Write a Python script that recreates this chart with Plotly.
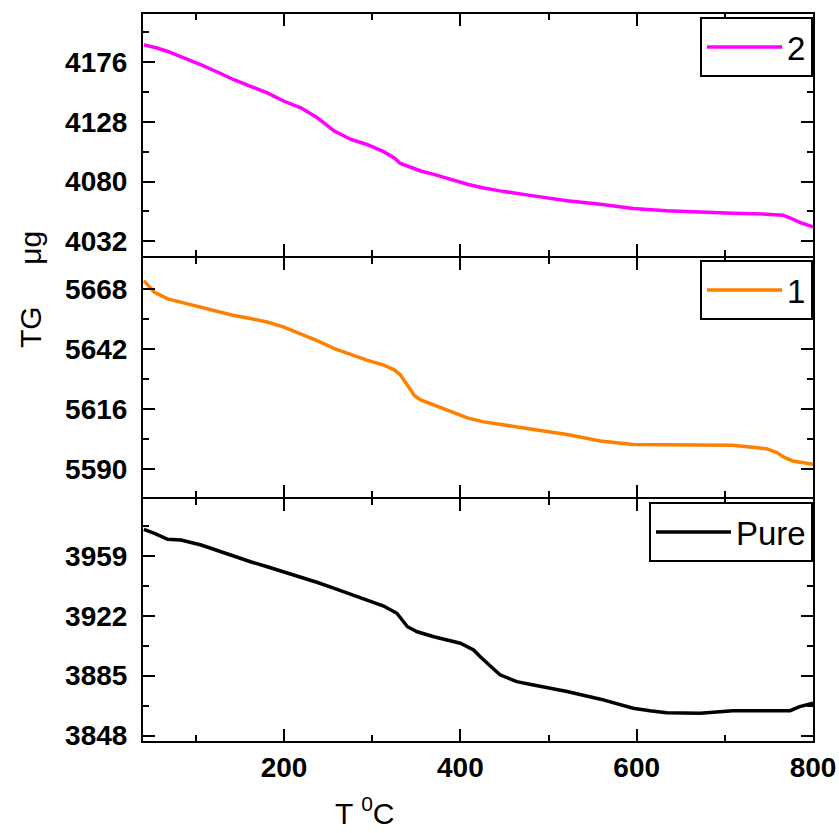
import plotly.graph_objects as go

# ---- data ----
T2 = [41, 55, 68, 86, 106, 125, 143, 162, 181, 200, 219, 238, 257, 276, 294, 313, 325, 332, 345, 355, 370, 390, 408, 425, 445, 483, 521, 559, 596, 634, 672, 709, 747, 766, 775, 785, 800]
W2 = [4189.8, 4187.5, 4184.5, 4179.5, 4173.8, 4167.8, 4161.8, 4156.5, 4151.2, 4144.5, 4139.2, 4131.2, 4120.5, 4113.8, 4109.8, 4104.0, 4099.0, 4094.5, 4091.0, 4088.5, 4085.8, 4081.5, 4077.8, 4075.0, 4072.5, 4068.5, 4064.5, 4061.8, 4058.4, 4056.5, 4055.2, 4054.6, 4053.8, 4053.0, 4050.5, 4047.2, 4043.6]

T1 = [41, 53, 68, 86, 106, 125, 143, 162, 181, 200, 219, 238, 257, 276, 294, 313, 325, 332, 338, 343, 348, 355, 370, 390, 408, 425, 445, 483, 521, 559, 596, 634, 672, 709, 728, 747, 759, 768, 777, 800]
W1 = [5671.6, 5666.5, 5663.7, 5662.0, 5660.1, 5658.2, 5656.5, 5655.2, 5653.7, 5651.5, 5648.7, 5645.5, 5642.2, 5639.6, 5637.2, 5635.1, 5633.0, 5630.8, 5627.5, 5624.4, 5621.8, 5620.0, 5617.9, 5614.8, 5612.2, 5610.6, 5609.3, 5607.2, 5605.0, 5602.2, 5600.7, 5600.5, 5600.5, 5600.4, 5599.6, 5598.9, 5597.2, 5595.0, 5593.6, 5592.2]

TP = [41, 53, 68, 83, 106, 125, 143, 162, 181, 200, 219, 238, 257, 276, 294, 313, 328, 335, 340, 351, 370, 400, 415, 422, 430, 438, 445, 464, 483, 521, 559, 596, 615, 634, 672, 690, 709, 747, 774, 785, 800]
WP = [3975.3, 3972.8, 3969.1, 3968.7, 3965.6, 3962.0, 3958.4, 3955.3, 3952.2, 3949.1, 3946.0, 3942.5, 3938.9, 3935.3, 3931.7, 3928.0, 3923.5, 3919.0, 3915.2, 3912.1, 3909.0, 3905.0, 3900.9, 3897.0, 3892.7, 3889.0, 3885.5, 3881.3, 3879.3, 3875.2, 3870.5, 3864.9, 3863.4, 3862.2, 3861.8, 3862.8, 3863.4, 3863.4, 3863.4, 3865.9, 3868.0]

FONT = "Liberation Sans, Arial, sans-serif"

W, H = 839, 833
L, R, TOP, B = 143, 839 - 813, 14, 833 - 741
PH = H - TOP - B  # plot height in px
PW = W - L - R


def py(p):
    # screen y px -> paper fraction
    return (H - B - p) / PH


def px(p):
    return (p - L) / PW


fig = go.Figure()
fig.add_trace(go.Scatter(x=T2, y=W2, mode="lines", name="2",
                         line=dict(color="#ff00ff", width=3.5), xaxis="x", yaxis="y", legend="legend"))
fig.add_trace(go.Scatter(x=T1, y=W1, mode="lines", name="1",
                         line=dict(color="#ff8000", width=3.5), xaxis="x2", yaxis="y2", legend="legend2"))
fig.add_trace(go.Scatter(x=TP, y=WP, mode="lines", name="Pure",
                         line=dict(color="#000000", width=3.5), xaxis="x3", yaxis="y3", legend="legend3"))


def xax(anchor, labels):
    return dict(domain=[0, 1], anchor=anchor, range=[40, 800], dtick=200, tick0=0,
                ticks="inside", ticklen=12, tickwidth=2, tickcolor="black",
                showline=True, linewidth=2, linecolor="black", mirror="ticks",
                showgrid=False, zeroline=False, showticklabels=labels, automargin=False,
                tickfont=dict(family=FONT, size=28, color="black", weight="bold"),
                minor=dict(dtick=100, tick0=0, ticks="inside", ticklen=6, tickwidth=2, tickcolor="black", showgrid=False))


def yax(anchor, d, rng, tick0, dtick):
    return dict(domain=d, anchor=anchor, range=rng, tick0=tick0, dtick=dtick,
                ticks="inside", ticklen=12, tickwidth=2, tickcolor="black",
                showline=True, linewidth=2, linecolor="black", mirror="ticks",
                showgrid=False, zeroline=False, ticklabelstandoff=8, automargin=False,
                tickfont=dict(family=FONT, size=28, color="black", weight="bold"),
                minor=dict(dtick=dtick / 2, tick0=tick0, ticks="inside", ticklen=6, tickwidth=2, tickcolor="black", showgrid=False))


leg = dict(xanchor="right", yanchor="top", x=1, bgcolor="white", bordercolor="black", borderwidth=2,
           font=dict(family=FONT, size=33, color="black"), itemwidth=75, tracegroupgap=0)

d1 = [py(256), py(14)]
d2 = [py(497), py(258)]
d3 = [py(741), py(499)]

fig.update_layout(
    width=W, height=H,
    margin=dict(l=L, r=R, t=TOP, b=B, autoexpand=False),
    paper_bgcolor="white", plot_bgcolor="white",
    xaxis=xax("y", False),
    yaxis=yax("x", d1, [4020.2, 4214.6], 4032, 48),
    xaxis2=xax("y2", False),
    yaxis2=yax("x2", d2, [5578, 5681.4], 5590, 26),
    xaxis3=xax("y3", True),
    yaxis3=yax("x3", d3, [3844.7, 3994], 3848, 37),
    legend=dict(leg, y=py(17)),
    legend2=dict(leg, y=py(260)),
    legend3=dict(leg, y=py(502)),
    showlegend=True,
    annotations=[
        dict(text="TG\u00a0\u00a0\u00a0\u00a0\u00a0μg", textangle=-90, xref="paper", yref="paper",
             x=px(30), y=py(290), showarrow=False,
             xanchor="center", yanchor="middle",
             font=dict(family=FONT, size=30, color="black")),
        dict(text="T <sup>0</sup>C", xref="paper", yref="paper",
             x=px(364), y=py(811), showarrow=False,
             xanchor="center", yanchor="middle",
             font=dict(family=FONT, size=30, color="black")),
    ],
)

fig.write_html("out.html", config={"displayModeBar": False},
               post_script="document.body.style.margin='0';document.documentElement.style.overflow='hidden';document.body.style.overflow='hidden';")
